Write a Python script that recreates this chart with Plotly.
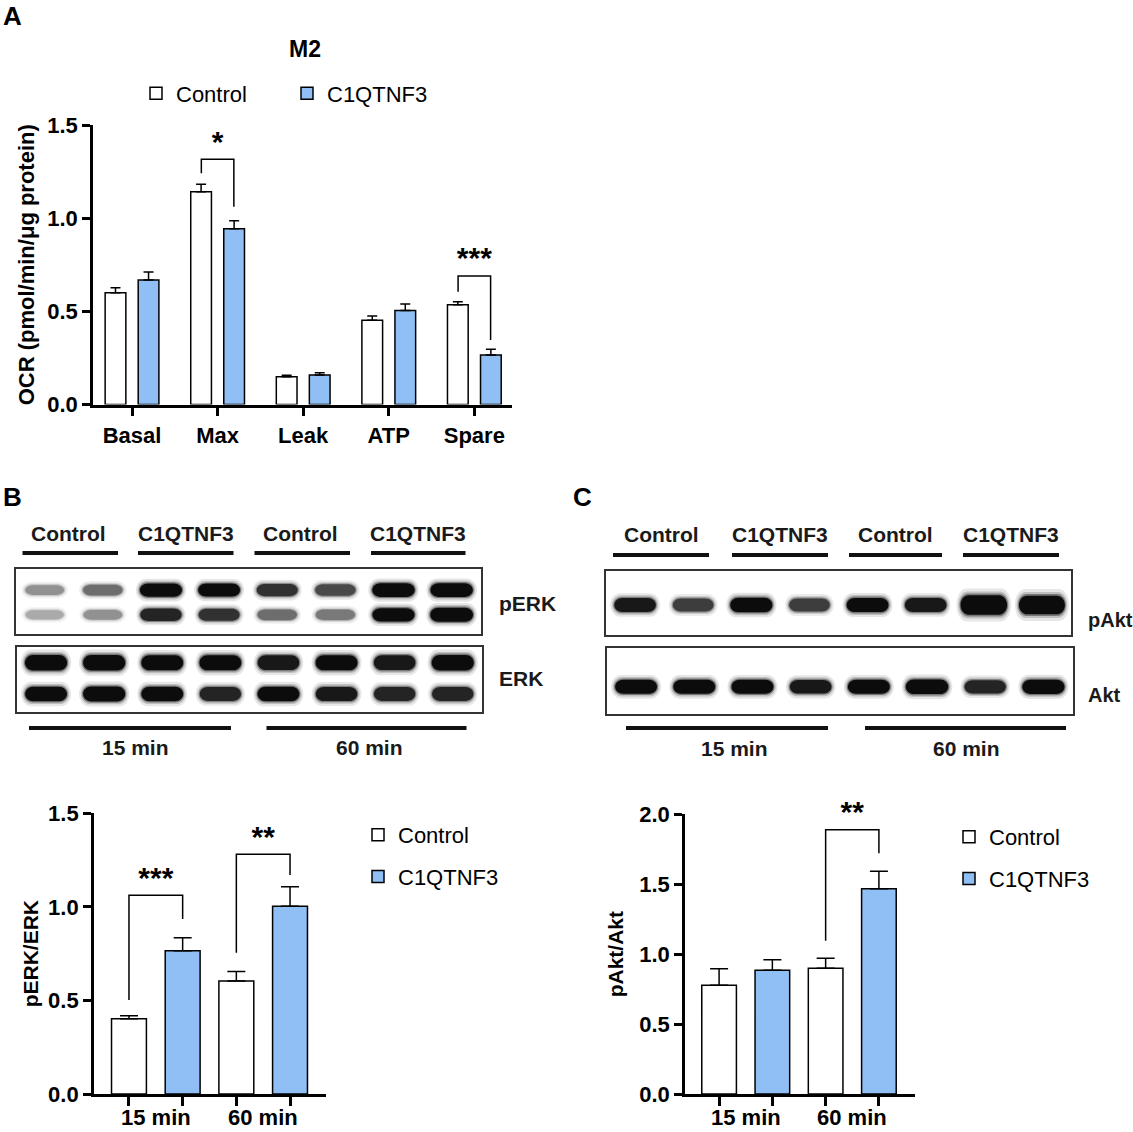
import plotly.graph_objects as go

W, H = 1133, 1132
FONT = "Liberation Sans, Arial, sans-serif"
BLUE = "#8fbff5"

# ---- Panel A: OCR in M2 macrophages ----
ocr_params = ["Basal", "Max", "Leak", "ATP", "Spare"]
ocr_control = [0.600, 1.142, 0.149, 0.452, 0.536]
ocr_control_sem = [0.027, 0.040, 0.008, 0.023, 0.016]
ocr_c1q = [0.668, 0.943, 0.158, 0.505, 0.266]
ocr_c1q_sem = [0.043, 0.043, 0.013, 0.034, 0.030]
ocr_sig_param = [1, 4]
ocr_sig_top = [1.316, 0.690]
ocr_sig_left_end = [1.241, 0.605]
ocr_sig_right_end = [1.061, 0.346]
ocr_sig_label = ["*", "***"]

# ---- Panel B: pERK/ERK ----
time_groups = ["15 min", "60 min"]
erk_control = [0.402, 0.604]
erk_control_sem = [0.016, 0.050]
erk_c1q = [0.766, 1.003]
erk_c1q_sem = [0.069, 0.105]
erk_sig_top = [1.062, 1.281]
erk_sig_left_end = [0.502, 0.755]
erk_sig_right_end = [0.935, 1.170]
erk_sig_label = ["***", "**"]

# ---- Panel C: pAkt/Akt ----
akt_control = [0.777, 0.899]
akt_control_sem = [0.119, 0.071]
akt_c1q = [0.885, 1.468]
akt_c1q_sem = [0.075, 0.124]
akt_sig_top = [1.890]
akt_sig_left_end = [1.096]
akt_sig_right_end = [1.721]
akt_sig_label = ["**"]

# ---- western blots: relative band signal per lane ----
lane_groups = ["Control", "C1QTNF3", "Control", "C1QTNF3"]
blot_lanes = [1, 2, 3, 4, 5, 6, 7, 8]
perk_upper = [0.45, 0.60, 1.05, 1.00, 0.85, 0.75, 1.10, 1.10]
perk_lower = [0.35, 0.45, 0.90, 0.85, 0.60, 0.55, 1.05, 1.15]
erk_upper = [1.05, 1.05, 1.00, 1.00, 0.95, 1.00, 0.95, 1.05]
erk_lower = [1.00, 1.05, 1.00, 0.90, 1.00, 0.95, 0.90, 0.90]
pakt_band = [0.95, 0.80, 1.05, 0.80, 1.00, 0.95, 1.80, 1.70]
akt_band = [1.00, 1.00, 1.00, 0.95, 1.00, 1.10, 0.90, 1.05]


def px(x):
    return x / W


def py(y):
    return 1 - y / H


fig = go.Figure()


def add_bars(xa, ya, xc, yc, ec, xt, yt, et, width, off_c, off_t, legend, cap):
    fig.add_trace(go.Bar(x=xc, y=yc, name="Control", width=width, offset=off_c,
                         marker=dict(color="white", line=dict(color="black", width=1.5)),
                         error_y=dict(type="data", array=ec, arrayminus=[0] * len(ec), symmetric=False,
                                      color="black", thickness=1.5, width=cap),
                         xaxis=xa, yaxis=ya, legend=legend, legendgroup=legend + "c"))
    fig.add_trace(go.Bar(x=xt, y=yt, name="C1QTNF3", width=width, offset=off_t,
                         marker=dict(color=BLUE, line=dict(color="black", width=1.5)),
                         error_y=dict(type="data", array=et, arrayminus=[0] * len(et), symmetric=False,
                                      color="black", thickness=1.5, width=cap),
                         xaxis=xa, yaxis=ya, legend=legend, legendgroup=legend + "t"))


def add_brackets(xa, ya, xl, xr, top, le, re, labels):
    for a, b, t, l, r, s in zip(xl, xr, top, le, re, labels):
        fig.add_trace(go.Scatter(x=[a, a, b, b], y=[l, t, t, r], mode="lines",
                                 line=dict(color="black", width=1.5), cliponaxis=False,
                                 xaxis=xa, yaxis=ya, showlegend=False, hoverinfo="skip"))
        fig.add_trace(go.Scatter(x=[(a + b) / 2], y=[t], mode="text", text=[s],
                                 textposition="top center", cliponaxis=False,
                                 textfont=dict(family=FONT, size=30, color="black", weight="bold"),
                                 xaxis=xa, yaxis=ya, showlegend=False, hoverinfo="skip"))


# A
idx = list(range(len(ocr_params)))
add_bars("x", "y", idx, ocr_control, ocr_control_sem, idx, ocr_c1q, ocr_c1q_sem,
         0.242, -0.314, 0.072, "legend", 5)
add_brackets("x", "y", [i - 0.19 for i in ocr_sig_param], [i + 0.19 for i in ocr_sig_param],
             ocr_sig_top, ocr_sig_left_end, ocr_sig_right_end, ocr_sig_label)

# B
add_bars("x2", "y2", [0, 2], erk_control, erk_control_sem, [1, 3], erk_c1q, erk_c1q_sem,
         0.65, -0.325, -0.325, "legend2", 9)
add_brackets("x2", "y2", [0, 2], [1, 3], erk_sig_top, erk_sig_left_end, erk_sig_right_end, erk_sig_label)

# C
add_bars("x3", "y3", [0, 2], akt_control, akt_control_sem, [1, 3], akt_c1q, akt_c1q_sem,
         0.65, -0.325, -0.325, "legend3", 9)
add_brackets("x3", "y3", [2], [3], akt_sig_top, akt_sig_left_end, akt_sig_right_end, akt_sig_label)

# blot bands drawn as soft rounded bars on hidden lane axes
shapes = []


def band_path(cx, cy, hw, hh, rx):
    k = 0.552
    x0, x1, y0, y1 = cx - hw, cx + hw, cy - hh, cy + hh
    return (f"M{x0 + rx},{y1} L{x1 - rx},{y1} "
            f"C{x1 - rx + k * rx},{y1} {x1},{cy + k * hh} {x1},{cy} "
            f"C{x1},{cy - k * hh} {x1 - rx + k * rx},{y0} {x1 - rx},{y0} "
            f"L{x0 + rx},{y0} "
            f"C{x0 + rx - k * rx},{y0} {x0},{cy - k * hh} {x0},{cy} "
            f"C{x0},{cy + k * hh} {x0 + rx - k * rx},{y1} {x0 + rx},{y1} Z")


def add_bands(xa, ya, signal, cy, base_h):
    for lane, s in zip(blot_lanes, signal):
        dark = min(s, 1.0)
        g = int(255 * (1 - 0.95 * dark))
        col = f"rgb({g},{g},{g})"
        hw = 0.31 + 0.05 * s
        hh = base_h * (0.55 + 0.45 * s)
        for grow, op in [(1.7, 0.10), (1.4, 0.18), (1.18, 0.4), (1.0, 1.0)]:
            shapes.append(dict(type="path", xref=xa, yref=ya,
                               path=band_path(lane, cy, hw + 0.1 * (grow - 1), hh * grow,
                                              0.14 + 0.05 * (grow - 1)),
                               fillcolor=col, opacity=op, line=dict(width=0), layer="above"))


add_bands("x6", "y6", perk_upper, 0.68, 0.10)
add_bands("x6", "y6", perk_lower, 0.30, 0.10)
add_bands("x7", "y7", erk_upper, 0.756, 0.115)
add_bands("x7", "y7", erk_lower, 0.279, 0.11)
add_bands("x8", "y8", pakt_band, 0.469, 0.11)
add_bands("x9", "y9", akt_band, 0.41, 0.105)

bold = dict(family=FONT, color="black", weight="bold")
tickfont = dict(family=FONT, size=22, color="black", weight="bold")
axis_common = dict(showline=True, linecolor="black", linewidth=2.5, ticks="outside", tickwidth=2.5,
                   tickcolor="black", ticklen=8, showgrid=False, zeroline=False, tickfont=tickfont,
                   fixedrange=True, automargin=False)

annotations = []


def note(text, x, y, size=21, xanchor="center", color="#1a1a1a"):
    annotations.append(dict(text=text, x=px(x), y=py(y), xref="paper", yref="paper", showarrow=False,
                            xanchor=xanchor, yanchor="middle",
                            font=dict(family=FONT, size=size, color=color, weight="bold")))


def hline(x0, x1, y, w=4):
    shapes.append(dict(type="line", xref="paper", yref="paper", x0=px(x0), x1=px(x1), y0=py(y), y1=py(y),
                       line=dict(color="#111111", width=w)))


note("A", 1, 16, 26, "left", "black")
note("B", 1, 497, 26, "left", "black")
note("C", 571, 497, 26, "left", "black")
note("M2", 305, 49, 23, "center", "black")

# group labels under the B and C bar charts, placed on the bar axes
for xa in ["x2", "x3"]:
    for lab, pos in zip(time_groups, [0.5, 2.5]):
        annotations.append(dict(text=lab, x=pos, xref=xa, y=py(1117), yref="paper", showarrow=False,
                                xanchor="center", yanchor="middle", font=tickfont))

# B blot labels
for lab, cx, x0, x1 in zip(lane_groups, [68, 186, 300, 418], [22.5, 138, 254.5, 371], [118, 233.5, 350, 465.5]):
    note(lab, cx, 533)
    hline(x0, x1, 553)
note("pERK", 497, 603, 21, "left")
note("ERK", 497, 678, 21, "left")
for lab, cx, x0, x1 in zip(time_groups, [135, 369], [29, 266.5], [231, 466.5]):
    hline(x0, x1, 728)
    note(lab, cx, 747)

# C blot labels
for lab, cx, x0, x1 in zip(lane_groups, [661, 780, 895, 1011], [613, 732, 849, 963], [709, 828, 942, 1059]):
    note(lab, cx, 534)
    hline(x0, x1, 555)
note("pAkt", 1086, 620, 20, "left")
note("Akt", 1086, 695, 20, "left")
for lab, cx, x0, x1 in zip(time_groups, [734, 966], [626, 865], [828, 1066]):
    hline(x0, x1, 728)
    note(lab, cx, 748)

blot_axis = dict(showline=True, mirror=True, linecolor="#333333", linewidth=1.5, ticks="",
                 showticklabels=False, showgrid=False, zeroline=False, fixedrange=True, automargin=False)

fig.update_layout(
    width=W, height=H,
    margin=dict(l=0, r=0, t=0, b=0, autoexpand=False),
    paper_bgcolor="white", plot_bgcolor="white",
    font=dict(family=FONT, color="black"),
    showlegend=True,
    xaxis=dict(axis_common, domain=[px(93), px(512)], range=[-0.456, 4.44], anchor="y",
               tickvals=idx, ticktext=ocr_params, ticklen=9),
    yaxis=dict(axis_common, domain=[py(404.5), py(125)], range=[0, 1.5], dtick=0.5, tickformat=".1f",
               anchor="x", title=dict(text="OCR (pmol/min/μg protein)", font=dict(bold, size=22), standoff=7)),
    xaxis2=dict(axis_common, domain=[px(93.8), px(326)], range=[-0.655, 3.67], anchor="y2",
                tickvals=[0, 1, 2, 3], showticklabels=False, ticklen=9),
    yaxis2=dict(axis_common, domain=[py(1094), py(813.3)], range=[0, 1.5], dtick=0.5, tickformat=".1f",
                anchor="x2", title=dict(text="pERK/ERK", font=dict(bold, size=21), standoff=4)),
    xaxis3=dict(axis_common, domain=[px(685), px(914.6)], range=[-0.64, 3.67], anchor="y3",
                tickvals=[0, 1, 2, 3], showticklabels=False, ticklen=9),
    yaxis3=dict(axis_common, domain=[py(1094), py(814.3)], range=[0, 2.0], dtick=0.5, tickformat=".1f",
                anchor="x3", title=dict(text="pAkt/Akt", font=dict(bold, size=21), standoff=10)),
    xaxis6=dict(blot_axis, domain=[px(15.6), px(480.7)], range=[0.5, 8.5], anchor="y6"),
    yaxis6=dict(blot_axis, domain=[py(634.3), py(569.3)], range=[0, 1], anchor="x6"),
    xaxis7=dict(blot_axis, domain=[px(17), px(481.8)], range=[0.5, 8.5], anchor="y7"),
    yaxis7=dict(blot_axis, domain=[py(712.3), py(646.7)], range=[0, 1], anchor="x7"),
    xaxis8=dict(blot_axis, domain=[px(606), px(1071)], range=[0.5, 8.5], anchor="y8"),
    yaxis8=dict(blot_axis, domain=[py(635.3), py(570.7)], range=[0, 1], anchor="x8"),
    xaxis9=dict(blot_axis, domain=[px(607), px(1072.5)], range=[0.5, 8.5], anchor="y9"),
    yaxis9=dict(blot_axis, domain=[py(714), py(647.7)], range=[0, 1], anchor="x9"),
    legend=dict(orientation="h", x=px(136), y=py(93.5), xanchor="left", yanchor="middle",
                font=dict(family=FONT, size=22, color="black"), entrywidth=106, bgcolor="rgba(0,0,0,0)"),
    legend2=dict(orientation="v", x=px(358), y=py(814), xanchor="left", yanchor="top", tracegroupgap=10,
                 font=dict(family=FONT, size=22, color="black"), bgcolor="rgba(0,0,0,0)"),
    legend3=dict(orientation="v", x=px(949), y=py(816), xanchor="left", yanchor="top", tracegroupgap=10,
                 font=dict(family=FONT, size=22, color="black"), bgcolor="rgba(0,0,0,0)"),
    shapes=shapes,
    annotations=annotations,
)

fig.write_html("out.html", config={"displayModeBar": False},
               post_script="document.body.style.margin = '0px';")
